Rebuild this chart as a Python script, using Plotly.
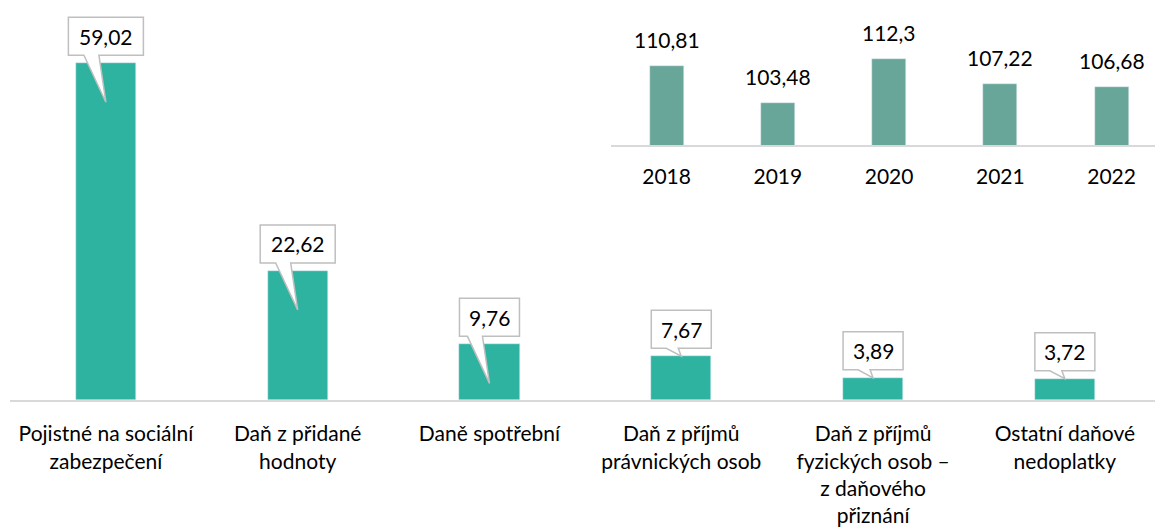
import plotly.graph_objects as go

# ---- data ----
categories = ["Pojistné na sociální<br>zabezpečení", "Daň z přidané<br>hodnoty", "Daně spotřební",
              "Daň z příjmů<br>právnických osob", "Daň z příjmů<br>fyzických osob –<br>z daňového<br>přiznání",
              "Ostatní daňové<br>nedoplatky"]
values = [59.02, 22.62, 9.76, 7.67, 3.89, 3.72]
years = ["2018", "2019", "2020", "2021", "2022"]
year_values = [110.81, 103.48, 112.3, 107.22, 106.68]

def fmt(v):
    return ("%g" % v).replace(".", ",")

W, H = 1155, 527
ML, MR, MT, MB = 10, 0, 0, 127
PW, PH = W - ML - MR, H - MT - MB

FONT = "Lato"
FS = 21
MAIN_COLOR = "#2EB3A0"
INSET_COLOR = "#67A699"
GRID = "#D9D9D9"

y_max = 70.1
x_rng = [-0.5, 5.47]
upx_y = y_max / PH                      # data units per pixel (y)
upx_x = (x_rng[1] - x_rng[0]) / PW      # category units per pixel (x)

x_idx = list(range(len(categories)))
fig = go.Figure()
fig.add_trace(go.Bar(x=x_idx, y=values, marker_color=MAIN_COLOR, width=0.313,
                     hoverinfo="skip", xaxis="x", yaxis="y"))

# inset
y2_lo, y2_hi = 95.07, 95.07 + 145 / 4.99
yr_idx = list(range(len(years)))
fig.add_trace(go.Bar(x=yr_idx, y=year_values, marker_color=INSET_COLOR, width=0.306,
                     hoverinfo="skip", xaxis="x2", yaxis="y2"))

shapes = []
annotations = []
for i, v in enumerate(values):
    t = fmt(v)
    bw = 15 * len(t)            # px
    bh = 38
    bot = v + 8 * upx_y
    top = bot + bh * upx_y
    left = i - bw / 2 * upx_x
    right = i + bw / 2 * upx_x
    bl = i - 22 * upx_x
    br = i - 7 * upx_x
    if v / upx_y > 45:
        tip = v - 39 * upx_y
    else:
        tip = v
        bl = i - 15 * upx_x
        br = i - 3 * upx_x
    path = (f"M {left},{top} L {right},{top} L {right},{bot} L {br},{bot} L {i},{tip} "
            f"L {bl},{bot} L {left},{bot} Z")
    shapes.append(dict(type="path", path=path, xref="x", yref="y", fillcolor="white",
                       line=dict(color="#BFBFBF", width=1.5), layer="above"))
    annotations.append(dict(x=i, y=(bot + top) / 2, xref="x", yref="y", text=t, showarrow=False,
                            font=dict(family=FONT, size=FS, color="black"), yanchor="middle"))

for i, v in enumerate(year_values):
    annotations.append(dict(x=i, y=v, xref="x2", yref="y2", text=fmt(v), showarrow=False,
                            yanchor="middle", yshift=27,
                            font=dict(family=FONT, size=FS, color="black")))

inset_y0 = (PH - 145) / PH
inset_x0 = (611 - ML) / PW

fig.update_layout(
    width=W, height=H, margin=dict(l=ML, r=MR, t=MT, b=MB),
    paper_bgcolor="white", plot_bgcolor="rgba(0,0,0,0)", showlegend=False,
    bargap=0, font=dict(family=FONT, size=FS, color="black"),
    xaxis=dict(range=x_rng, tickmode="array", tickvals=x_idx, ticktext=categories,
               showgrid=False, zeroline=False, showline=True, linecolor=GRID, linewidth=2,
               ticks="", ticklabelstandoff=14,
               tickfont=dict(family=FONT, size=FS, color="black"), fixedrange=True),
    yaxis=dict(range=[0, y_max], visible=False, fixedrange=True),
    xaxis2=dict(domain=[inset_x0, 1], anchor="y2", range=[-0.5, 4.39], tickmode="array",
                tickvals=yr_idx, ticktext=years, showgrid=False, zeroline=False, showline=True,
                linecolor=GRID, linewidth=2, ticks="", ticklabelstandoff=12,
                tickfont=dict(family=FONT, size=FS, color="black"), fixedrange=True),
    yaxis2=dict(domain=[inset_y0, 1], anchor="x2", range=[y2_lo, y2_hi], visible=False,
                fixedrange=True),
    shapes=shapes, annotations=annotations,
)

fig.write_html("out.html", config={"displayModeBar": False},
               post_script="document.body.style.margin='0';")
